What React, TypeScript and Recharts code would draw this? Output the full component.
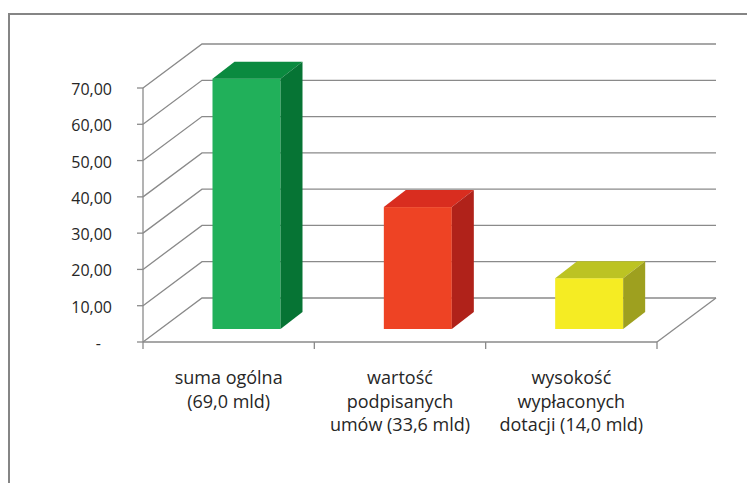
import React from 'react';
import { BarChart, Bar, XAxis, YAxis, CartesianGrid } from 'recharts';

// ---- data ----
const categories = ['suma ogólna (69,0 mld)', 'wartość podpisanych umów (33,6 mld)', 'wysokość wypłaconych dotacji (14,0 mld)'];
const categoryLines = [
  ['suma ogólna', '(69,0 mld)'],
  ['wartość', 'podpisanych', 'umów (33,6 mld)'],
  ['wysokość', 'wypłaconych', 'dotacji (14,0 mld)'],
];
const values = [69.0, 33.6, 14.0];
const yTicks = [0, 10, 20, 30, 40, 50, 60, 70];

// ---- styles ----
const frontColors = ['#21B05A', '#EE4324', '#F5EC23'];
const topColors = ['#0A8A3F', '#D92D1F', '#BCC323'];
const sideColors = ['#067434', '#B0221A', '#9EA01F'];
const GRID = '#8a8a8a';
const TEXT = '#262626';
const FONT = '"Open Sans", "Noto Sans", sans-serif';

// 3D geometry (pixels)
const DX = 59; // floor depth x
const DY = 44; // floor depth y
const BAR_SHIFT_X = 17.5;
const BAR_SHIFT_Y = 13;
const BAR_DX = 22;
const BAR_DY = 17;

const data = categories.map((name, i) => ({ name, value: values[i] }));

const Bar3D = (props: any) => {
  const { x, y, width, height, index } = props;
  const fx = x + BAR_SHIFT_X;
  const fy = y - BAR_SHIFT_Y;
  const top = `${fx},${fy} ${fx + BAR_DX},${fy - BAR_DY} ${fx + width + BAR_DX},${fy - BAR_DY} ${fx + width},${fy}`;
  const side = `${fx + width},${fy} ${fx + width + BAR_DX},${fy - BAR_DY} ${fx + width + BAR_DX},${fy + height - BAR_DY} ${fx + width},${fy + height}`;
  return (
    <g>
      <rect x={fx} y={fy} width={width} height={height} fill={frontColors[index]} />
      <polygon points={top} fill={topColors[index]} />
      <polygon points={side} fill={sideColors[index]} />
    </g>
  );
};

const GridLine = (props: any) => {
  const { x1, y1, x2, y, height } = props;
  const isFloor = Math.abs(y1 - (y + height)) < 0.5;
  return (
    <g>
      <polyline
        points={`${x1},${y1} ${x1 + DX},${y1 - DY} ${x2 + DX},${y1 - DY}`}
        fill="none"
        stroke={GRID}
        strokeWidth={1.3}
      />
      {isFloor && <line x1={x2} y1={y1} x2={x2 + DX} y2={y1 - DY} stroke={GRID} strokeWidth={1.3} />}
    </g>
  );
};

const YTick = (props: any) => {
  const { x, y, payload } = props;
  const v = payload.value;
  const label = v === 0 ? '-' : v.toFixed(2).replace('.', ',');
  return (
    <text x={v === 0 ? x - 11 : x} y={y} dy={7} textAnchor="end" fontFamily={FONT} fontSize={16} fill={TEXT}>
      {label}
    </text>
  );
};

const XTick = (props: any) => {
  const { x, y, payload, index } = props;
  const i = payload?.index ?? index;
  const half = payload?.offset ?? 85.7;
  const lines = categoryLines[i] || [];
  return (
    <g>
      <line x1={x - half} y1={y} x2={x - half} y2={y + 7} stroke={GRID} strokeWidth={1.3} />
      {i === categoryLines.length - 1 && (
        <line x1={x + half} y1={y} x2={x + half} y2={y + 7} stroke={GRID} strokeWidth={1.3} />
      )}
      <text x={x} textAnchor="middle" fontFamily={FONT} fontSize={18} fill={TEXT}>
        {lines.map((l, k) => (
          <tspan key={k} x={x} y={y + 42 + k * 23.5}>
            {l}
          </tspan>
        ))}
      </text>
    </g>
  );
};

export default function App() {
  return (
    <div style={{ position: 'fixed', left: 0, top: 0, width: 747, height: 483, overflow: 'hidden', background: '#fff' }}>
      <div
        style={{
          position: 'absolute',
          left: 7.5,
          top: 13,
          width: 800,
          height: 600,
          border: '2px solid #858585',
        }}
      />
      <div style={{ position: 'absolute', left: 0, top: 0 }}>
        <BarChart width={747} height={483} data={data} margin={{ top: 88, right: 90, bottom: 41, left: 83 }}>
          <CartesianGrid vertical={false} horizontal={GridLine as any} stroke={GRID} />
          <XAxis
            dataKey="name"
            height={100}
            axisLine={{ stroke: GRID, strokeWidth: 1.3 }}
            tickLine={false}
            tickSize={0}
            tickMargin={0}
            interval={0}
            tick={<XTick />}
          />
          <YAxis
            width={60}
            domain={[0, 70]}
            ticks={yTicks}
            interval={0}
            axisLine={{ stroke: GRID, strokeWidth: 1.3 }}
            tickLine={{ stroke: GRID, strokeWidth: 1.3 }}
            tickSize={6}
            tickMargin={25}
            tick={<YTick />}
          />
          <Bar dataKey="value" barSize={68} shape={<Bar3D />} isAnimationActive={false} />
        </BarChart>
      </div>
    </div>
  );
}
